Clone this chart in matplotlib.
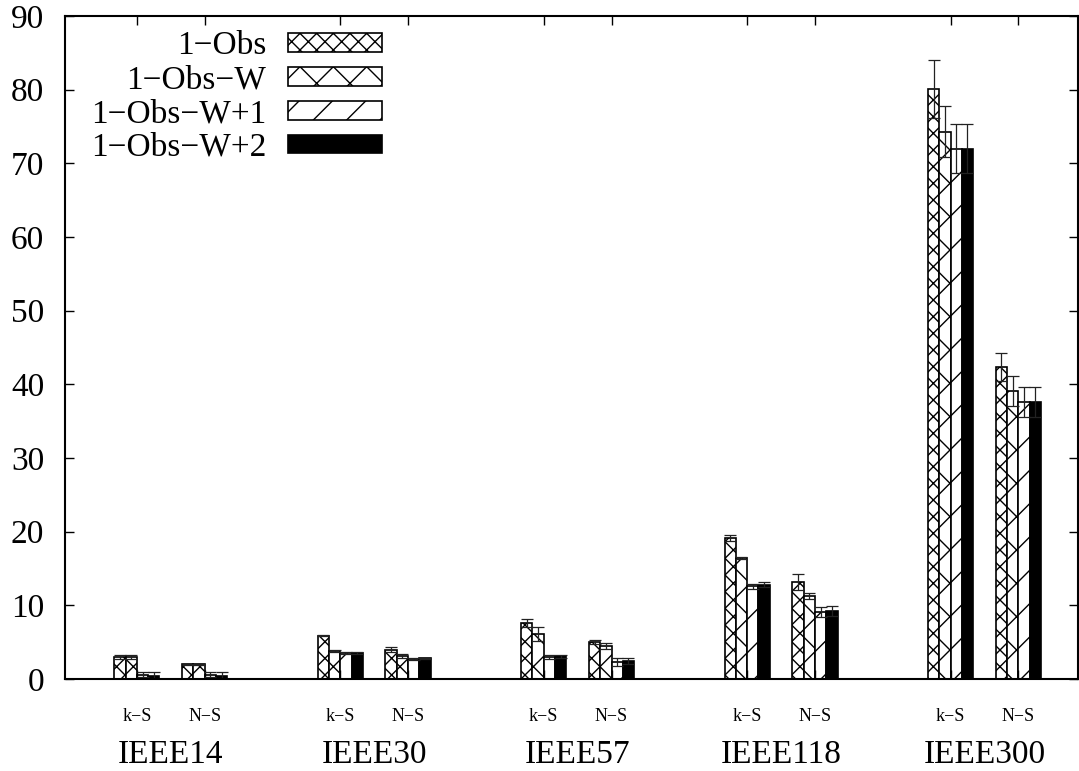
import matplotlib
matplotlib.use('Agg')
import matplotlib.pyplot as plt
import numpy as np

plt.rcParams['font.family'] = ['Liberation Serif', 'DejaVu Serif']
plt.rcParams['hatch.linewidth'] = 1.0
plt.rcParams['hatch.color'] = 'black'

# ---- data ----
systems = ['IEEE14', 'IEEE30', 'IEEE57', 'IEEE118', 'IEEE300']
subcats = ['k\u2212S', 'N\u2212S']
series = ['1\u2212Obs', '1\u2212Obs\u2212W', '1\u2212Obs\u2212W+1', '1\u2212Obs\u2212W+2']

# order: IEEE14 k-S, IEEE14 N-S, IEEE30 k-S, ... IEEE300 N-S
obs       = [3.0, 2.0, 5.9, 4.0, 7.6, 5.0, 19.2, 13.2, 80.1, 42.4]
obs_err   = [0.3, 0.05, 0.1, 0.35, 0.5, 0.3, 0.4, 1.1, 3.9, 1.9]
obsw      = [3.0, 2.0, 3.8, 3.1, 6.1, 4.5, 16.4, 11.3, 74.3, 39.1]
obsw_err  = [0.3, 0.05, 0.1, 0.3, 0.9, 0.45, 0.15, 0.4, 3.5, 2.0]
obsw1     = [0.6, 0.6, 3.5, 2.7, 3.0, 2.3, 12.6, 9.1, 72.0, 37.6]
obsw1_err = [0.3, 0.3, 0.1, 0.15, 0.25, 0.6, 0.35, 0.7, 3.3, 2.0]
obsw2     = [0.4, 0.4, 3.5, 2.8, 3.1, 2.5, 12.8, 9.2, 72.0, 37.6]
obsw2_err = [0.5, 0.5, 0.1, 0.1, 0.2, 0.4, 0.3, 0.7, 3.3, 2.0]

positions = [0, 1, 3, 4, 6, 7, 9, 10, 12, 13]

values = [obs, obsw, obsw1, obsw2]
errors = [obs_err, obsw_err, obsw1_err, obsw2_err]
hatches = ['xx', 'x', '/', None]
faces = ['white', 'white', 'white', 'black']

fig = plt.figure(figsize=(10.79, 7.71), dpi=100)
ax = fig.add_axes([65/1079, 1-679/771, (1078-65)/1079, (679-16)/771])

x = np.array(positions, dtype=float)
w = 1/6
for i in range(4):
    ax.bar(x + (i-1.5)*w, values[i], w, yerr=errors[i], color=faces[i],
           edgecolor='black', hatch=hatches[i], linewidth=1.2,
           error_kw=dict(ecolor='#222222', elinewidth=0.9, capsize=4, capthick=0.9),
           label=series[i])

ax.set_xlim(-1.06, 13.88)
ax.set_ylim(0, 90)
ax.set_yticks(range(0, 91, 10))
ax.set_xticks(x)
ax.set_xticklabels(subcats * len(systems), fontsize=13)
ax.tick_params(axis='x', direction='in', top=True, bottom=True, length=6.5, width=1, pad=21)
ax.tick_params(axis='y', direction='in', left=True, right=True, length=6.5, width=1,
               pad=15, labelsize=24)
for s in ax.spines.values():
    s.set_linewidth(1.5)

for k, name in enumerate(systems):
    cx = (positions[2*k] + positions[2*k+1]) / 2
    ax.text(cx, -(755-679)/663, name, transform=ax.get_xaxis_transform(),
            ha='center', va='center', fontsize=24)

ax.legend(loc='upper right', bbox_to_anchor=(382/1079, 1-31/771),
          bbox_transform=fig.transFigure, frameon=False, markerfirst=False,
          handlelength=2.82, handleheight=0.48, handletextpad=0.66,
          labelspacing=0.1, borderpad=0, borderaxespad=0, fontsize=24)

fig.savefig('out.png', dpi=100)
